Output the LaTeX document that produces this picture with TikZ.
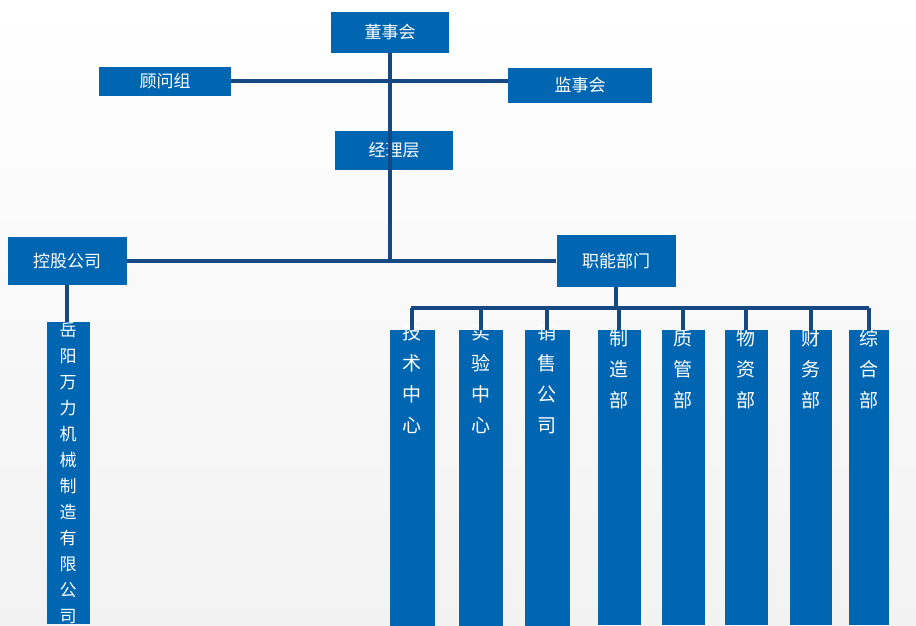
\documentclass[tikz,border=0pt]{standalone}
\usepackage{fontspec}
\newfontfamily\cjk{Noto Sans CJK SC}
\definecolor{boxblue}{RGB}{0,102,178}
\definecolor{lineblue}{RGB}{22,72,130}
\tikzset{
  box/.style={fill=boxblue,text=white,inner sep=0pt,font=\cjk\fontsize{17pt}{20pt}\selectfont},
  link/.style={draw=lineblue,line width=3.5pt},
}
\begin{document}
\begin{tikzpicture}[x=1pt,y=-1pt]

      \shade[top color=white,bottom color=gray!10] (0,0) rectangle (916,625);
      \useasboundingbox (0,0) rectangle (916,625);

      \node[box,minimum width=118,minimum height=41] (board) at (390,32) {董事会};
      \node[box,minimum width=132,minimum height=29] (advisor) at (165,81) {顾问组};
      \node[box,minimum width=144,minimum height=35] (super) at (580,85) {监事会};
      \node[box,minimum width=118,minimum height=39] (manager) at (394,150) {经理层};
      \node[box,minimum width=119,minimum height=48] (holding) at (67,261) {控股公司};
      \node[box,minimum width=119,minimum height=52] (func) at (616,261) {职能部门};
      \coordinate (hub) at (390,81);
      \coordinate (cross) at (390,262);
      \coordinate (bar) at (616,308);

      \draw[link] (advisor.east) -- (super.west |- advisor.east); % advisor-supervisor
      \draw[link] (board.south) -- (cross); % trunk
      \draw[link] (holding.east) -- (holding.east -| func.west); % middle bar
      \draw[link] (func.south) -- (bar);

      % subsidiary
      \node[box,minimum width=43,minimum height=293,anchor=north,align=center,
            font=\cjk\fontsize{17pt}{26pt}\selectfont] (sub) at (68,322)
            {岳\\阳\\万\\力\\机\\械\\制\\造\\有\\限\\公\\司};
      \draw[link] (holding.south) -- (sub.north -| holding.south);

      % departments
      \draw[link] (411,308) -- (869,308);
      \foreach \x/\w/\name/\txt in {412/45/tech/技\\术\\中\\心, 481/44/lab/实\\验\\中\\心,
          547/45/sales/销\\售\\公\\司, 619/43/prod/制\\造\\部, 683/43/qual/质\\管\\部,
          746/43/mat/物\\资\\部, 811/42/fin/财\\务\\部, 869/40/gen/综\\合\\部}
      {
        \node[box,minimum width=\w,minimum height=295,anchor=north,align=center,
              text depth=0pt,font=\cjk\fontsize{19pt}{31pt}\selectfont] (\name) at (\x,330)
              {\raisebox{0pt}{}\\[-22pt]\txt\\[180pt]};
        \draw[link] (\x,308) -- (\name.north);
      }

    \end{tikzpicture}
\end{document}
